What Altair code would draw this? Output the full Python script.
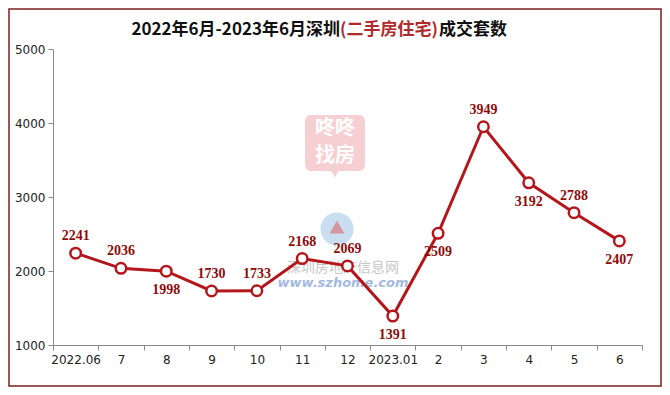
import altair as alt
import pandas as pd

months = ["2022.06", "7", "8", "9", "10", "11", "12", "2023.01", "2", "3", "4", "5", "6"]
sales = [2241, 2036, 1998, 1730, 1733, 2168, 2069, 1391, 2509, 3949, 3192, 2788, 2407]
below_labels = ["8", "2023.01", "2", "4", "6"]

title_left = "2022年6月-2023年6月深圳"
title_mid = "(二手房住宅)"
title_right = "成交套数"

df = pd.DataFrame({"month": months, "sales": sales})
one = pd.DataFrame({"k": [0]})

LINE = "#b3171c"
LABEL = "#8e0b0b"

x = alt.X("month:N", sort=months, title=None,
          axis=alt.Axis(labelAngle=0, tickBand="extent", labelFontSize=12,
                        labelFont="DejaVu Sans", labelColor="#222", labelPadding=4,
                        domainColor="#8a8a8a", tickColor="#8a8a8a", tickSize=5, grid=False))
y = alt.Y("sales:Q", title=None,
          scale=alt.Scale(domain=[1000, 5000], nice=False, zero=False),
          axis=alt.Axis(values=[1000, 2000, 3000, 4000, 5000], format="d", labelFontSize=12,
                        labelFont="DejaVu Sans", labelColor="#222", labelPadding=3,
                        domainColor="#8a8a8a", tickColor="#8a8a8a", tickSize=5, grid=False))

base = alt.Chart(df)

# decorative watermarks / frame
frame = alt.Chart(one).mark_rect(fill=None, stroke="#7d1f22", strokeWidth=1.5, clip=False).encode(
    x=alt.value(-44), x2=alt.value(608), y=alt.value(-40), y2=alt.value(337))
wm_box = alt.Chart(one).mark_rect(color="#f3c3c6", opacity=0.8, cornerRadius=6).encode(
    x=alt.value(252), x2=alt.value(312), y=alt.value(66), y2=alt.value(122))
wm_tri = alt.Chart(one).mark_point(shape="triangle-down", filled=True, color="#f3c3c6",
                                   opacity=0.8, size=60).encode(x=alt.value(282), y=alt.value(125))
wm_t1 = alt.Chart(one).mark_text(text="咚咚", font="Noto Sans CJK SC", fontSize=20, color="white",
                                 fontWeight="bold").encode(x=alt.value(282), y=alt.value(80))
wm_t2 = alt.Chart(one).mark_text(text="找房", font="Noto Sans CJK SC", fontSize=20, color="white",
                                 fontWeight="bold").encode(x=alt.value(282), y=alt.value(107))
wm_logo = alt.Chart(one).mark_point(shape="circle", filled=True, color="#9cc3e6", opacity=0.55,
                                    size=1100).encode(x=alt.value(284), y=alt.value(180))
wm_logo2 = alt.Chart(one).mark_point(shape="triangle-up", filled=True, color="#d9777a", opacity=0.7,
                                     size=220).encode(x=alt.value(284), y=alt.value(178))
wm_cn = alt.Chart(one).mark_text(text="深圳房地产信息网", font="Noto Sans CJK SC", fontSize=14,
                                 color="#b9b9b9", opacity=0.8).encode(x=alt.value(290), y=alt.value(219))
wm_url = alt.Chart(one).mark_text(text="www.szhome.com", font="DejaVu Sans", fontSize=13,
                                  fontStyle="italic", fontWeight="bold", color="#8ea8d8",
                                  opacity=0.8).encode(x=alt.value(290), y=alt.value(234))

# title in three coloured parts
t_left = alt.Chart(one).mark_text(text=title_left, font="Noto Sans CJK SC", fontSize=17,
                                  fontWeight="bold", color="#111", align="right",
                                  baseline="middle").encode(x=alt.value(287), y=alt.value(-19))
t_mid = alt.Chart(one).mark_text(text=title_mid, font="Noto Sans CJK SC", fontSize=17,
                                 fontWeight="bold", color="#b02a2a", align="center",
                                 baseline="middle").encode(x=alt.value(336), y=alt.value(-19))
t_right = alt.Chart(one).mark_text(text=title_right, font="Noto Sans CJK SC", fontSize=17,
                                   fontWeight="bold", color="#111", align="left",
                                   baseline="middle").encode(x=alt.value(386), y=alt.value(-19))

line = base.mark_line(color=LINE, strokeWidth=3).encode(x=x, y=y)
pts = base.mark_point(shape="circle", filled=True, fill="white", stroke=LINE, strokeWidth=2.5,
                      size=110, opacity=1).encode(x=x, y=y)
lab_above = base.transform_filter(
    ~alt.FieldOneOfPredicate(field="month", oneOf=below_labels)
).mark_text(dy=-17, font="Liberation Serif", fontWeight="bold", fontSize=14, color=LABEL).encode(
    x=x, y=y, text="sales:Q")
lab_below = base.transform_filter(
    alt.FieldOneOfPredicate(field="month", oneOf=below_labels)
).mark_text(dy=19, font="Liberation Serif", fontWeight="bold", fontSize=14, color=LABEL).encode(
    x=x, y=y, text="sales:Q")

chart = alt.layer(
    frame, wm_box, wm_tri, wm_t1, wm_t2, wm_logo, wm_logo2, wm_cn, wm_url,
    line, pts, lab_above, lab_below, t_left, t_mid, t_right
).properties(
    width=589, height=296,
    padding={"left": 45, "top": 41, "right": 20, "bottom": 42},
    autosize=alt.AutoSizeParams(type="none"),
    background="white",
).configure_view(stroke=None)

chart.save("out.html", embed_options={"renderer": "svg", "actions": False})
